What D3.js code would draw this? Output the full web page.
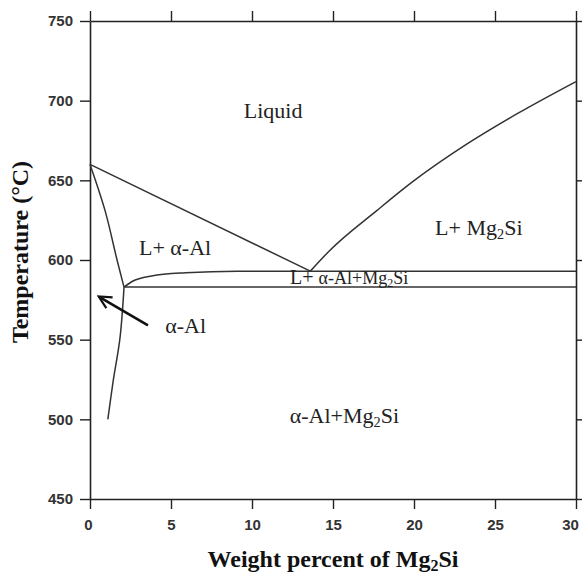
<!DOCTYPE html>
<html>
<head>
<meta charset="utf-8">
<script src="https://cdn.jsdelivr.net/npm/d3@7"></script>
<style>
  body { margin: 0; background: #fff; }
  .tick text { font-family: "Liberation Sans", Arial, sans-serif; font-weight: bold; font-size: 15px; fill: #333; }
  .region { font-family: "Liberation Serif", "Times New Roman", serif; fill: #222; }
  .title { font-family: "Liberation Serif", "Times New Roman", serif; font-weight: bold; fill: #111; }
</style>
</head>
<body>
<div id="chart"></div>
<script>
// Al-Mg2Si pseudo-binary phase diagram
const xTicks = [0, 5, 10, 15, 20, 25, 30];
const yTicks = [450, 500, 550, 600, 650, 700, 750];

const liquidusAl = [[0, 660], [13.6, 593]];
const liquidusMg2Si = [[13.6, 593], [14.8, 606], [17.7, 631], [19.9, 649], [23.3, 673], [26.4, 692], [30, 712]];
const solidus = [[0, 660], [0.93, 631], [1.67, 600], [2.1, 583]];
const solvus = [[2.1, 583], [1.85, 551], [1.43, 524], [1.1, 500]];
const ternaryLine = [[2.1, 583], [2.6, 586.5], [3.8, 590], [5.9, 592], [9.1, 593], [30, 593]];
const eutecticLine = [[2.1, 583], [30, 583]];
const arrow = [[3.58, 559], [0.62, 576.6]];

const W = 582, H = 573;
const margin = { top: 21, right: 6, bottom: 74, left: 90 };

const svg = d3.select("#chart").append("svg")
  .attr("width", W)
  .attr("height", H);

const x = d3.scaleLinear().domain([0, 30]).range([margin.left, W - margin.right]);
const y = d3.scaleLinear().domain([450, 750]).range([H - margin.bottom, margin.top]);

const axisStyle = g => {
  g.select(".domain").attr("stroke", "#222").attr("stroke-width", 1.6);
  g.selectAll(".tick line").attr("stroke", "#222").attr("stroke-width", 1.4);
};

svg.append("g")
  .attr("transform", `translate(0,${y(450)})`)
  .call(d3.axisBottom(x).tickValues(xTicks).tickSize(10).tickSizeOuter(0).tickPadding(10))
  .call(axisStyle)
  .call(g => g.selectAll(".tick text").attr("dx", d => d === 30 ? -6 : d === 0 ? -2 : 0));

svg.append("g")
  .attr("transform", `translate(0,${y(750)})`)
  .call(d3.axisTop(x).tickValues(xTicks).tickSize(10).tickSizeOuter(0).tickFormat(""))
  .call(axisStyle);

svg.append("g")
  .attr("transform", `translate(${x(0)},0)`)
  .call(d3.axisLeft(y).tickValues(yTicks).tickSize(10).tickSizeOuter(0).tickPadding(7))
  .call(axisStyle);

svg.append("g")
  .attr("transform", `translate(${x(30)},0)`)
  .call(d3.axisRight(y).tickValues(yTicks).tickSize(10).tickSizeOuter(0).tickFormat(""))
  .call(axisStyle);

const line = d3.line().x(d => x(d[0])).y(d => y(d[1]));
const smooth = d3.line().x(d => x(d[0])).y(d => y(d[1])).curve(d3.curveMonotoneX);
const bend = d3.line().x(d => x(d[0])).y(d => y(d[1])).curve(d3.curveCatmullRom);

[
  [liquidusAl, line],
  [liquidusMg2Si, smooth],
  [solidus, bend],
  [solvus, bend],
  [ternaryLine, smooth],
  [eutecticLine, line],
].forEach(([pts, gen]) => {
  svg.append("path")
    .attr("d", gen(pts))
    .attr("fill", "none")
    .attr("stroke", "#333")
    .attr("stroke-width", 1.5);
});

// arrow pointing at the alpha-Al field
svg.append("defs").append("marker")
  .attr("id", "head")
  .attr("viewBox", "0 0 10 10")
  .attr("refX", 8).attr("refY", 5)
  .attr("markerWidth", 6).attr("markerHeight", 6)
  .attr("orient", "auto")
  .append("path")
  .attr("d", "M1,1 L9,5 L1,9")
  .attr("fill", "none")
  .attr("stroke", "#111")
  .attr("stroke-width", 1.4);

svg.append("path")
  .attr("d", line(arrow))
  .attr("stroke", "#111")
  .attr("stroke-width", 2.6)
  .attr("marker-end", "url(#head)");

// region labels: [parts, x, T, size]; a part is [string, isSubscript]
const labels = [
  [[["Liquid", 0]], 11.3, 689, 22],
  [[["L+ α-Al", 0]], 5.25, 603, 22],
  [[["L+ Mg", 0], ["2", 1], ["Si", 0]], 24.0, 615.5, 22],
  [[["α-Al", 0]], 5.9, 554, 22],
  [[["α-Al+Mg", 0], ["2", 1], ["Si", 0]], 15.7, 498, 22],
];

labels.forEach(([parts, lx, ly, size]) => {
  const t = svg.append("text")
    .attr("class", "region")
    .attr("x", x(lx)).attr("y", y(ly))
    .attr("text-anchor", "middle")
    .attr("font-size", size);
  let shift = 0;
  parts.forEach(([s, sub]) => {
    const target = sub ? 4 : 0;
    t.append("tspan")
      .attr("font-size", sub ? size * 0.65 : size)
      .attr("dy", target - shift)
      .text(s);
    shift = target;
  });
});

// small eutectic-band label
const band = svg.append("text")
  .attr("class", "region")
  .attr("x", x(12.35)).attr("y", y(584.8))
  .attr("font-size", 20);
band.append("tspan").text("L+ ");
band.append("tspan").attr("font-size", 18).text("α-Al+Mg");
band.append("tspan").attr("font-size", 12).attr("dy", 3).text("2");
band.append("tspan").attr("font-size", 18).attr("dy", -3).text("Si");

// axis titles
const xt = svg.append("text")
  .attr("class", "title")
  .attr("x", (x(0) + x(30)) / 2)
  .attr("y", 567)
  .attr("text-anchor", "middle")
  .attr("font-size", 24);
xt.append("tspan").text("Weight percent of Mg");
xt.append("tspan").attr("font-size", 16).attr("dy", 4).text("2");
xt.append("tspan").attr("dy", -4).text("Si");

svg.append("text")
  .attr("class", "title")
  .attr("transform", `translate(28,252) rotate(-90)`)
  .attr("text-anchor", "middle")
  .attr("font-size", 24)
  .text("Temperature (°C)");
</script>
</body>
</html>
